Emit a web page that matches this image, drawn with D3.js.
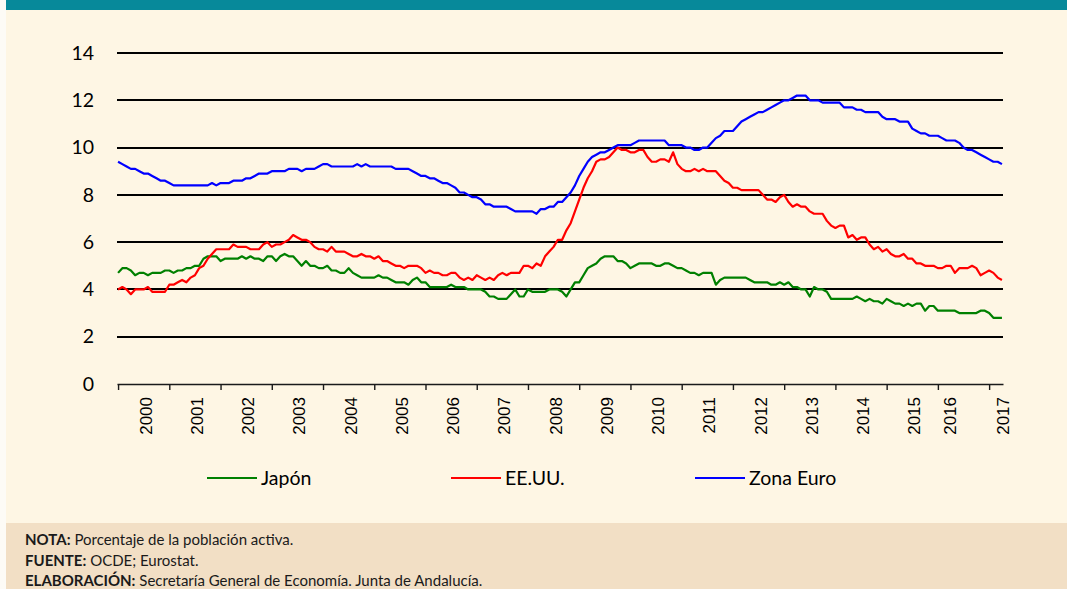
<!DOCTYPE html>
<html>
<head>
<meta charset="utf-8">
<script src="https://cdn.jsdelivr.net/npm/d3@7"></script>
<style>
  body { margin: 0; background: #fff; }
  svg { display: block; }
</style>
</head>
<body>
<svg width="1067" height="589"></svg>
<script>
// monthly unemployment rate, Jan 2000 - Apr 2017 (% of labour force)
const years = d3.range(2000, 2018).map(String);

const japon = [
  [4.7,4.9,4.9,4.8,4.6,4.7,4.7,4.6,4.7,4.7,4.7,4.8],
  [4.8,4.7,4.8,4.8,4.9,4.9,5.0,5.0,5.3,5.4,5.4,5.4],
  [5.2,5.3,5.3,5.3,5.3,5.4,5.3,5.4,5.3,5.3,5.2,5.4],
  [5.4,5.2,5.4,5.5,5.4,5.4,5.2,5.0,5.2,5.0,5.0,4.9],
  [4.9,5.0,4.8,4.8,4.7,4.7,4.9,4.7,4.6,4.5,4.5,4.5],
  [4.5,4.6,4.5,4.5,4.4,4.3,4.3,4.3,4.2,4.4,4.5,4.3],
  [4.3,4.1,4.1,4.1,4.1,4.1,4.2,4.1,4.1,4.1,4.0,4.0],
  [4.0,4.0,3.9,3.7,3.7,3.6,3.6,3.6,3.8,4.0,3.7,3.7],
  [4.0,3.9,3.9,3.9,3.9,4.0,4.0,4.0,3.9,3.7,4.0,4.3],
  [4.3,4.6,4.9,5.0,5.1,5.3,5.4,5.4,5.4,5.2,5.2,5.1],
  [4.9,5.0,5.1,5.1,5.1,5.1,5.0,5.0,5.1,5.1,5.0,4.9],
  [4.9,4.8,4.7,4.7,4.6,4.7,4.7,4.7,4.2,4.4,4.5,4.5],
  [4.5,4.5,4.5,4.5,4.4,4.3,4.3,4.3,4.3,4.2,4.2,4.3],
  [4.2,4.3,4.1,4.1,4.0,4.0,3.7,4.1,4.0,4.0,3.9,3.6],
  [3.6,3.6,3.6,3.6,3.6,3.7,3.6,3.5,3.6,3.5,3.5,3.4],
  [3.6,3.5,3.4,3.4,3.3,3.4,3.3,3.4,3.4,3.1,3.3,3.3],
  [3.1,3.1,3.1,3.1,3.1,3.0,3.0,3.0,3.0,3.0,3.1,3.1],
  [3.0,2.8,2.8,2.8]
].flat();

const eeuu = [
  [4.0,4.1,4.0,3.8,4.0,4.0,4.0,4.1,3.9,3.9,3.9,3.9],
  [4.2,4.2,4.3,4.4,4.3,4.5,4.6,4.9,5.0,5.3,5.5,5.7],
  [5.7,5.7,5.7,5.9,5.8,5.8,5.8,5.7,5.7,5.7,5.9,6.0],
  [5.8,5.9,5.9,6.0,6.1,6.3,6.2,6.1,6.1,6.0,5.8,5.7],
  [5.7,5.6,5.8,5.6,5.6,5.6,5.5,5.4,5.4,5.5,5.4,5.4],
  [5.3,5.4,5.2,5.2,5.1,5.0,5.0,4.9,5.0,5.0,5.0,4.9],
  [4.7,4.8,4.7,4.7,4.6,4.6,4.7,4.7,4.5,4.4,4.5,4.4],
  [4.6,4.5,4.4,4.5,4.4,4.6,4.7,4.6,4.7,4.7,4.7,5.0],
  [5.0,4.9,5.1,5.0,5.4,5.6,5.8,6.1,6.1,6.5,6.8,7.3],
  [7.8,8.3,8.7,9.0,9.4,9.5,9.5,9.6,9.8,10.0,9.9,9.9],
  [9.8,9.8,9.9,9.9,9.6,9.4,9.4,9.5,9.5,9.4,9.8,9.3],
  [9.1,9.0,9.0,9.1,9.0,9.1,9.0,9.0,9.0,8.8,8.6,8.5],
  [8.3,8.3,8.2,8.2,8.2,8.2,8.2,8.0,7.8,7.8,7.7,7.9],
  [8.0,7.7,7.5,7.6,7.5,7.5,7.3,7.2,7.2,7.2,6.9,6.7],
  [6.6,6.7,6.7,6.2,6.3,6.1,6.2,6.2,5.9,5.7,5.8,5.6],
  [5.7,5.5,5.4,5.4,5.5,5.3,5.3,5.1,5.1,5.0,5.0,5.0],
  [4.9,4.9,5.0,5.0,4.7,4.9,4.9,4.9,5.0,4.9,4.6,4.7],
  [4.8,4.7,4.5,4.4]
].flat();

const zonaEuro = [
  [9.4,9.3,9.2,9.1,9.1,9.0,8.9,8.9,8.8,8.7,8.6,8.6],
  [8.5,8.4,8.4,8.4,8.4,8.4,8.4,8.4,8.4,8.4,8.5,8.4],
  [8.5,8.5,8.5,8.6,8.6,8.6,8.7,8.7,8.8,8.9,8.9,8.9],
  [9.0,9.0,9.0,9.0,9.1,9.1,9.1,9.0,9.1,9.1,9.1,9.2],
  [9.3,9.3,9.2,9.2,9.2,9.2,9.2,9.2,9.3,9.2,9.3,9.2],
  [9.2,9.2,9.2,9.2,9.2,9.1,9.1,9.1,9.1,9.0,8.9,8.8],
  [8.8,8.7,8.7,8.6,8.5,8.5,8.4,8.3,8.1,8.1,8.0,7.9],
  [7.9,7.8,7.6,7.6,7.5,7.5,7.5,7.5,7.4,7.3,7.3,7.3],
  [7.3,7.3,7.2,7.4,7.4,7.5,7.5,7.7,7.7,7.9,8.1,8.4],
  [8.8,9.1,9.4,9.6,9.7,9.8,9.8,9.9,10.0,10.1,10.1,10.1],
  [10.1,10.2,10.3,10.3,10.3,10.3,10.3,10.3,10.3,10.1,10.1,10.1],
  [10.1,10.0,10.0,9.9,9.9,10.0,10.0,10.2,10.4,10.5,10.7,10.7],
  [10.7,10.9,11.1,11.2,11.3,11.4,11.5,11.5,11.6,11.7,11.8,11.9],
  [12.0,12.0,12.1,12.2,12.2,12.2,12.0,12.0,12.0,11.9,11.9,11.9],
  [11.9,11.9,11.7,11.7,11.7,11.6,11.6,11.5,11.5,11.5,11.5,11.3],
  [11.2,11.2,11.2,11.1,11.1,11.1,10.8,10.7,10.6,10.6,10.5,10.5],
  [10.5,10.4,10.3,10.3,10.3,10.2,10.0,9.9,9.9,9.8,9.7,9.6],
  [9.5,9.4,9.4,9.3]
].flat();

const yTicks = [0, 2, 4, 6, 8, 10, 12, 14];
const seriesNames = ["Japón", "EE.UU.", "Zona Euro"];
const seriesColors = ["#008000", "#ff0000", "#0000ff"];
const notes = [
  ["NOTA:", " Porcentaje de la población activa."],
  ["FUENTE:", " OCDE; Eurostat."],
  ["ELABORACIÓN:", " Secretaría General de Economía. Junta de Andalucía."]
];

const svg = d3.select("svg");
const width = +svg.attr("width");
const height = +svg.attr("height");
const plot = { left: 117, right: 1003, top: 53, bottom: 384 };

// background panels
svg.append("rect").attr("width", width).attr("height", height).attr("fill", "#fef6e4");
svg.append("rect").attr("width", width).attr("height", 10).attr("fill", "#07899a");
svg.append("rect").attr("y", 523).attr("width", width).attr("height", height - 523).attr("fill", "#f2dfc5");
svg.append("rect").attr("width", 6).attr("height", height).attr("fill", "#fdfbf6");

const n = japon.length;
const x = d3.scaleLinear().domain([-0.25, n - 0.75]).range([plot.left, plot.right]);
const y = d3.scaleLinear().domain([0, 14]).range([plot.bottom, plot.top]);

// horizontal gridlines
svg.append("g")
  .selectAll("line")
  .data(yTicks.filter(d => d > 0))
  .enter()
  .append("line")
  .attr("x1", plot.left)
  .attr("x2", plot.right)
  .attr("y1", d => Math.round(y(d)))
  .attr("y2", d => Math.round(y(d)))
  .attr("stroke", "#000")
  .attr("stroke-width", 2);

// y labels
const yAxis = svg.append("g")
  .attr("transform", `translate(${plot.left},0)`)
  .call(d3.axisLeft(y).tickValues(yTicks).tickSize(0).tickPadding(23));
yAxis.select(".domain").remove();
yAxis.selectAll("text")
  .attr("font-family", "Lato, 'Open Sans', sans-serif")
  .attr("font-size", 19.5)
  .attr("fill", "#000");

// x axis with yearly ticks
const yearStarts = years.map((d, i) => i * 12).filter(m => m < n);
const xAxis = svg.append("g")
  .attr("transform", `translate(0,${plot.bottom})`)
  .call(d3.axisBottom(x).tickValues(yearStarts).tickSize(6).tickSizeOuter(0).tickFormat(""));
xAxis.select(".domain").attr("stroke", "#1a1a1a").attr("stroke-width", 1.6);
xAxis.selectAll(".tick line").attr("stroke", "#1a1a1a").attr("stroke-width", 1.4);

// year labels, centred in each year; last partial year sits at the axis end
const labelX = years.map((yr, i) => {
  if (i === years.length - 1) return plot.right;
  let cx = x(i * 12 + 6) + 2;
  if (i === years.length - 2) cx -= 15;
  return cx;
});
svg.append("g")
  .selectAll("text")
  .data(years)
  .enter()
  .append("text")
  .attr("transform", (d, i) => `translate(${labelX[i]},397) rotate(-90)`)
  .attr("text-anchor", "end")
  .attr("dy", "0.35em")
  .attr("font-family", "'Liberation Sans', Arial, sans-serif")
  .attr("font-size", 17)
  .attr("fill", "#000")
  .text(d => d);

// series
const line = d3.line().x((d, i) => x(i)).y(d => y(d));
[japon, eeuu, zonaEuro].forEach((values, k) => {
  svg.append("path")
    .datum(values)
    .attr("fill", "none")
    .attr("stroke", seriesColors[k])
    .attr("stroke-width", 2.2)
    .attr("stroke-linejoin", "round")
    .attr("d", line);
});

// legend
const legend = svg.append("g").attr("transform", "translate(0,478)");
seriesNames.forEach((name, i) => {
  const x0 = 207 + i * 244;
  legend.append("line")
    .attr("x1", x0).attr("x2", x0 + 50)
    .attr("y1", 0).attr("y2", 0)
    .attr("stroke", seriesColors[i])
    .attr("stroke-width", 2.2);
  legend.append("text")
    .attr("x", x0 + 54)
    .attr("dy", "0.36em")
    .attr("font-family", "Lato, 'Open Sans', sans-serif")
    .attr("font-size", 19.5)
    .attr("fill", "#000")
    .text(name);
});

// footer notes
notes.forEach((d, i) => {
  const t = svg.append("text")
    .attr("x", 25)
    .attr("y", 545 + i * 20.5)
    .attr("font-family", "Lato, 'Open Sans', sans-serif")
    .attr("font-size", 15)
    .attr("fill", "#1a1a1a");
  t.append("tspan").attr("font-weight", "bold").text(d[0]);
  t.append("tspan").text(d[1]);
});
</script>
</body>
</html>
